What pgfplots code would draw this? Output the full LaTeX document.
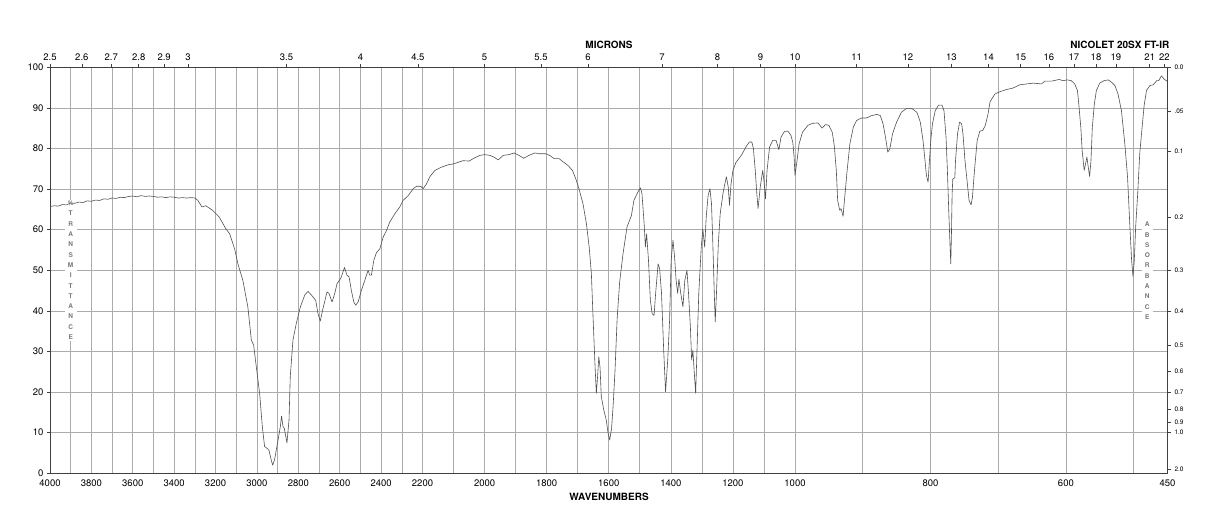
\documentclass[border=0pt]{standalone}
\usepackage{pgfplots}
\pgfplotsset{compat=1.18}
\usepackage{fontspec}
\setmainfont{TeX Gyre Heros}
\definecolor{gridc}{HTML}{ABABAB}
\definecolor{framec}{HTML}{404040}
\definecolor{curvec}{HTML}{505050}
\definecolor{lblc}{HTML}{7A7A7A}
\pgfplotsset{
  irtrafo/.style={
    x coord trafo/.code={\pgfmathparse{(##1>=2200) ? ((4000-##1)/1800) : ((##1>=1000) ? (1+(2200-##1)/1200) : (2+(1000-##1)/550))}},
    x coord inv trafo/.code={\pgfmathparse{(##1<=1) ? (4000-1800*##1) : ((##1<=2) ? (2200-1200*(##1-1)) : (1000-550*(##1-2)))}},
  },
  irbase/.style={
    at={(50pt,54.7pt)}, anchor=south west,
    scale only axis, width=1117.5pt, height=406pt,
    irtrafo,
    xmin=4000, xmax=450, ymin=0, ymax=100,
    axis line style={framec, line width=0.8pt},
    tick align=outside,
  },
}
\begin{document}
\begin{tikzpicture}
\path[use as bounding box] (0pt,0pt) rectangle (1218pt,528pt);
% grid, frame, left and bottom scales
\begin{axis}[irbase,
  xtick={4000,3800,3600,3400,3200,3000,2800,2600,2400,2200,2000,1800,1600,1400,1200,1000,800,600,450},
  xticklabels={4000,3800,3600,3400,3200,3000,2800,2600,2400,2200,2000,1800,1600,1400,1200,1000,800,600,450},
  minor xtick={3900,3700,3500,3300,3100,2900,2700,2500,2300,2100,1900,1700,1500,1300,1100,900,700,500},
  ytick={0,10,20,30,40,50,60,70,80,90,100},
  yticklabels={0,10,20,30,40,50,60,70,80,90,100},
  xtick pos=left, ytick pos=left,
  grid=both,
  major grid style={gridc, line width=0.6pt},
  minor grid style={gridc, line width=0.6pt},
  x tick style={draw=none},
  minor tick length=0pt,
  major tick length=3pt,
  y tick style={framec, line width=0.6pt},
  ticklabel style={font=\fontsize{9.5}{10}\selectfont, text=black},
]
\addplot[draw=none] coordinates {(4000,50) (450,50)};
\end{axis}
% vertical captions with white backing
\node[fill=white, inner xsep=3pt, inner ysep=1pt, align=center, text=lblc,
  font=\bfseries\fontsize{6.5}{10.3}\selectfont] at (70.7pt,257.7pt)
  {\%\\T\\R\\A\\N\\S\\M\\I\\T\\T\\A\\N\\C\\E};
\node[fill=white, inner xsep=3pt, inner ysep=1pt, align=center, text=lblc,
  font=\bfseries\fontsize{6.5}{10.3}\selectfont] at (1147.3pt,257.3pt)
  {A\\B\\S\\O\\R\\B\\A\\N\\C\\E};
% spectrum, microns and absorbance scales
\begin{axis}[irbase,
  xtick={4000,3846.15,3703.70,3571.43,3448.28,3333.33,2857.14,2500,2222.22,2000,1818.18,1666.67,1428.57,1250,1111.11,1000,909.09,833.33,769.23,714.29,666.67,625,588.24,555.56,526.32,476.19,454.55},
  xticklabels={2.5,2.6,2.7,2.8,2.9,3,3.5,4,4.5,5,5.5,6,7,8,9,10,11,12,13,14,15,16,17,18,19,21,22},
  ytick={100,89.125,79.433,63.096,50.119,39.811,31.623,25.119,19.953,15.849,12.589,10,1},
  yticklabels={0.0,.05,0.1,0.2,0.3,0.4,0.5,0.6,0.7,0.8,0.9,1.0,2.0},
  xtick pos=right, xticklabel pos=right,
  ytick pos=right, yticklabel pos=right,
  major tick length=3.5pt,
  tick style={framec, line width=0.6pt},
  xticklabel style={font=\fontsize{9.5}{10}\selectfont},
  yticklabel style={font=\fontsize{6.5}{7}\selectfont},
]
\addplot[curvec, line width=0.6pt, line join=round] coordinates {
(4000,65.7) (3980,65.9) (3960,65.8) (3940,66.2) (3920,66.1) (3900,66.6) (3880,66.5) (3860,66.8) (3840,66.7) (3820,67.1)
(3800,67.0) (3780,67.3) (3760,67.2) (3740,67.6) (3720,67.5) (3700,67.8) (3680,67.7) (3660,68.0) (3640,67.9) (3620,68.2)
(3600,68.3) (3580,68.1) (3560,68.4) (3540,68.2) (3520,68.3) (3500,68.2) (3480,68.0) (3460,68.1) (3440,67.9) (3420,68.1)
(3400,68.0) (3380,67.8) (3360,67.9) (3340,67.8) (3320,67.9) (3300,67.8) (3285,67.2) (3266,65.6) (3247,65.9) (3215,64.8)
(3182,63.1) (3150,60.2) (3132,59.0) (3108,55.3) (3092,51.6) (3068,47.5) (3044,41.0) (3027,32.8) (3016,31.6) (3003,26.2)
(2987,19.7) (2974,11.5) (2963,6.6) (2950,6.1) (2942,5.7) (2931,3.3) (2924,2.0) (2915,3.3) (2898,8.2) (2887,11.5)
(2881,14.1) (2874,11.5) (2868,11.1) (2855,7.5) (2845,13.1) (2839,23.8) (2826,32.8) (2810,36.9) (2790,41.0) (2769,43.9)
(2753,44.8) (2737,43.9) (2716,42.6) (2705,39.3) (2694,37.5) (2681,40.6) (2661,44.7) (2652,44.3) (2637,42.2) (2624,44.3)
(2613,46.7) (2595,48.0) (2577,50.7) (2565,48.8) (2555,48.4) (2544,45.1) (2532,42.2) (2523,41.4) (2511,42.2) (2495,45.1)
(2479,47.5) (2463,50.0) (2455,48.8) (2447,48.8) (2435,52.5) (2423,54.3) (2406,55.3) (2390,58.2) (2374,59.8) (2358,61.9)
(2334,63.9) (2310,65.6) (2294,67.2) (2269,68.4) (2245,70.1) (2229,70.7) (2209,70.7) (2198,70.1) (2187,71.3) (2176,73.1)
(2160,74.6) (2139,75.4) (2117,76.0) (2101,76.2) (2085,76.6) (2069,77.0) (2050,76.9) (2032,77.7) (2015,78.3) (1999,78.5)
(1983,78.3) (1970,77.9) (1956,77.2) (1940,78.3) (1921,78.5) (1905,78.9) (1889,78.3) (1874,77.6) (1857,78.3) (1838,78.9)
(1822,78.7) (1803,78.7) (1790,78.3) (1776,77.5) (1760,77.5) (1745,76.6) (1731,75.8) (1717,74.6) (1706,72.5) (1696,70.1)
(1683,66.4) (1672,61.5) (1663,55.7) (1656,49.2) (1651,39.3) (1645,27.9) (1640,19.7) (1636,23.8) (1632,28.7) (1628,26.0)
(1624,18.9) (1616,15.6) (1608,13.1) (1602,9.8) (1597,8.2) (1591,11.0) (1586,16.5) (1580,25.0) (1573,38.0) (1565,47.0)
(1554,54.1) (1541,60.7) (1527,63.5) (1519,67.2) (1506,69.3) (1498,70.3) (1493,68.9) (1486,61.5) (1482,55.7) (1478,59.0)
(1472,52.5) (1466,42.6) (1460,39.3) (1454,38.9) (1449,44.3) (1441,51.6) (1436,50.4) (1430,44.3) (1423,30.3) (1417,20.1)
(1410,27.9) (1404,37.7) (1399,52.5) (1393,57.4) (1388,53.3) (1383,47.5) (1378,44.3) (1374,47.9) (1368,44.3) (1361,41.0)
(1355,47.5) (1348,50.0) (1343,44.3) (1337,36.1) (1333,27.9) (1329,30.3) (1325,25.4) (1320,19.7) (1315,32.0) (1310,44.3)
(1302,55.7) (1297,60.2) (1291,55.7) (1286,63.1) (1280,68.4) (1274,70.1) (1269,66.4) (1265,57.4) (1260,44.3) (1257,37.3)
(1253,44.3) (1247,56.6) (1241,63.9) (1232,68.9) (1226,71.3) (1221,73.0) (1215,70.5) (1211,66.0) (1206,71.3) (1200,74.6)
(1190,76.6) (1173,78.3) (1157,80.5) (1147,81.6) (1139,81.6) (1134,80.0) (1128,74.6) (1123,68.9) (1119,65.2) (1112,70.5)
(1104,74.6) (1100,72.1) (1095,67.6) (1090,74.6) (1082,80.3) (1072,82.0) (1061,82.0) (1052,79.7) (1045,82.8) (1034,84.2)
(1023,84.3) (1013,83.2) (1007,81.5) (1003,78.0) (1000,73.4) (997,77.0) (994,81.1) (989,84.0) (981,85.7) (974,86.2)
(966,86.3) (960,85.0) (955,85.9) (950,85.7) (945,84.0) (942,80.7) (939,74.6) (937,67.2) (934,64.8) (932,65.2)
(929,63.3) (927,67.2) (923,74.6) (919,81.1) (914,85.2) (909,86.9) (902,87.5) (895,87.5) (887,88.1) (879,88.4)
(874,88.1) (870,86.1) (866,82.4) (863,79.1) (860,79.9) (856,83.6) (850,86.5) (843,88.9) (835,89.9) (828,89.9)
(820,88.9) (815,86.5) (811,82.0) (808,77.0) (806,73.4) (803.5,71.7) (801.5,77.0) (799.5,82.0) (797,86.1) (793,89.3)
(788,90.7) (783,90.7) (780,89.3) (777,82.8) (775,74.6) (773,64.8) (771,55.7) (770,51.6) (769,59.0) (768,68.9)
(767,72.5) (764,72.8) (763,77.0) (760,83.6) (757,86.5) (754,86.1) (752,83.6) (749,77.0) (745,70.5) (743,67.2)
(740,66.1) (738,68.0) (735,74.6) (731,82.0) (727,84.3) (723,84.4) (719,85.7) (715,88.5) (712,91.5) (705,93.4)
(697.5,94.0) (688,94.5) (678,94.9) (668,95.7) (658,95.9) (648,96.1) (636,95.9) (631,96.6) (621,96.6) (610,97.0)
(604,96.7) (598,96.9) (592,96.7) (587,95.9) (583,94.3) (581,91.0) (578,85.2) (576,79.5) (573,74.6) (571,76.2)
(569,77.9) (567,75.4) (565,73.1) (563,77.0) (561,85.2) (558,91.0) (555,94.3) (550,96.1) (544,96.7) (537.5,96.9)
(532.5,96.3) (527.6,95.5) (523,93.4) (518,89.3) (513,81.1) (509,73.0) (505.5,60.7) (503,52.5) (501,48.5) (499,52.5)
(497,60.7) (494,68.9) (491,78.7) (487.5,85.2) (484.5,90.6) (481,94.3) (476,95.5) (471,95.7) (466,96.7) (463,96.7)
(459,97.9) (455,97.1) (450,96.5)
};
\end{axis}
\node[font=\bfseries\fontsize{10}{12}\selectfont, inner sep=0pt] at (609pt,483pt) {MICRONS};
\node[font=\bfseries\fontsize{10}{12}\selectfont, inner sep=0pt, anchor=east] at (1169.5pt,483pt) {NICOLET 20SX FT-IR};
\node[font=\bfseries\fontsize{10}{12}\selectfont, inner sep=0pt] at (609pt,31.3pt) {WAVENUMBERS};
\end{tikzpicture}
\end{document}
